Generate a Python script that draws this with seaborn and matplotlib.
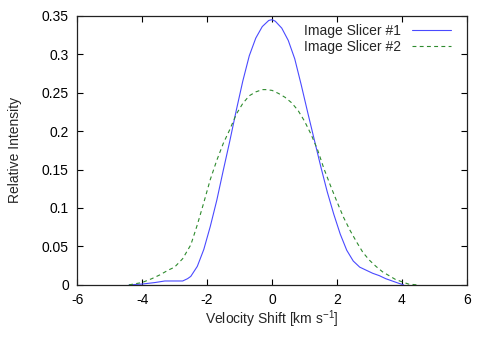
import numpy as np
import pandas as pd
import matplotlib
matplotlib.use("Agg")
import matplotlib.pyplot as plt
import seaborn as sns

# Perfis (velocidade em km/s, intensidade relativa)
vel_1 = [-4.4, -4.0, -3.6, -3.3, -3.0, -2.75, -2.6, -2.5, -2.3, -2.1, -1.9, -1.7, -1.5,
         -1.3, -1.1, -0.9, -0.7, -0.5, -0.3, -0.1, 0.0, 0.1, 0.3, 0.5, 0.7, 0.9, 1.1,
         1.3, 1.5, 1.7, 1.9, 2.1, 2.3, 2.5, 2.7, 2.9, 3.1, 3.3, 3.5, 3.7, 3.9, 4.05]
int_1 = [0.0, 0.001, 0.003, 0.005, 0.005, 0.005, 0.008, 0.011, 0.024, 0.046, 0.076, 0.110, 0.149,
         0.187, 0.227, 0.265, 0.298, 0.321, 0.336, 0.344, 0.345, 0.343, 0.334, 0.318, 0.294, 0.260, 0.224,
         0.189, 0.154, 0.121, 0.092, 0.066, 0.045, 0.031, 0.023, 0.019, 0.015, 0.012, 0.008, 0.005, 0.002, 0.0]

vel_2 = [-4.4, -4.0, -3.7, -3.45, -3.2, -3.0, -2.75, -2.5, -2.3, -2.1, -1.9, -1.7, -1.5,
         -1.3, -1.1, -0.9, -0.7, -0.5, -0.3, -0.2, 0.0, 0.2, 0.4, 0.6, 0.8, 1.0, 1.2,
         1.4, 1.6, 1.8, 2.0, 2.2, 2.4, 2.6, 2.8, 3.0, 3.2, 3.4, 3.6, 3.8, 4.0, 4.2, 4.45]
int_2 = [0.0, 0.003, 0.008, 0.013, 0.019, 0.023, 0.034, 0.052, 0.078, 0.107, 0.137, 0.162, 0.184,
         0.202, 0.222, 0.236, 0.246, 0.251, 0.254, 0.254, 0.253, 0.249, 0.244, 0.237, 0.227, 0.213, 0.196,
         0.176, 0.151, 0.129, 0.108, 0.088, 0.071, 0.056, 0.042, 0.032, 0.024, 0.017, 0.012, 0.007, 0.004, 0.001, 0.0]

x_ticks = [-6, -4, -2, 0, 2, 4, 6]
y_ticks = [0, 0.05, 0.1, 0.15, 0.2, 0.25, 0.3, 0.35]
y_labels = ['0', '0.05', '0.1', '0.15', '0.2', '0.25', '0.3', '0.35']

df = pd.concat([
    pd.DataFrame({'vel': vel_1, 'int': int_1, 'serie': 'Image Slicer #1'}),
    pd.DataFrame({'vel': vel_2, 'int': int_2, 'serie': 'Image Slicer #2'}),
])

sns.set_style('ticks')
plt.rcParams['font.family'] = ['Liberation Sans', 'DejaVu Sans']
plt.rcParams['mathtext.fontset'] = 'custom'
plt.rcParams['mathtext.rm'] = 'Liberation Sans'

fig = plt.figure(figsize=(4.91, 3.44), dpi=100)
ax = fig.add_axes([0.157, 0.172, 0.794, 0.782])

cores = {'Image Slicer #1': '#4a4aff', 'Image Slicer #2': '#2e8b2e'}
sns.lineplot(data=df, x='vel', y='int', hue='serie', style='serie', palette=cores,
             dashes={'Image Slicer #1': '', 'Image Slicer #2': (3.5, 3)},
             sort=False, estimator=None, linewidth=0.8, ax=ax)

ax.set_xlim(-6, 6)
ax.set_ylim(0, 0.35)
ax.set_xticks(x_ticks)
ax.set_xticklabels([str(t) for t in x_ticks])
ax.set_yticks(y_ticks)
ax.set_yticklabels(y_labels)
ax.tick_params(direction='in', top=True, right=True, length=4.5, width=0.8,
               labelsize=10, colors='black', pad=6)
for s in ax.spines.values():
    s.set_linewidth(0.9)
    s.set_color('#222222')

ax.set_xlabel(r'Velocity Shift [km s$^{\mathregular{-1}}$]', fontsize=10, labelpad=1)
ax.set_ylabel('Relative Intensity', fontsize=10, labelpad=14)

leg = ax.legend(loc='upper right', frameon=False, markerfirst=False, fontsize=10,
                handlelength=2.8, handletextpad=0.8, labelspacing=0.1,
                borderaxespad=0.2, bbox_to_anchor=(0.98, 1.0))

fig.savefig('out.png', dpi=100)
